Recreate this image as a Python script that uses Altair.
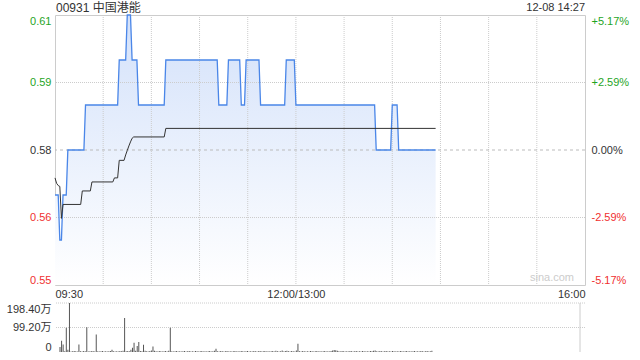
import json
import altair as alt
import pandas as pd

FONT = "Liberation Sans, Noto Sans CJK SC, sans-serif"
GREEN = "#1fa51f"
RED = "#f03030"
BLUE = "#4a86e8"
DARK = "#333333"

# ---- data ----
title_text = "00931 中国港能"
time_text = "12-08 14:27"
watermark_text = "sina.com"

# trading minutes since 09:30 (lunch break removed), price in HKD
price_min = [0, 2, 3, 4, 5, 7, 8, 18, 19, 39, 40, 44, 45, 47, 48, 51, 52, 68, 69,
             101, 102, 107, 108, 115, 116, 118, 119, 127, 128, 143, 144, 149, 150,
             199, 200, 209, 210, 213, 214, 237]
price_val = [0.57, 0.57, 0.56, 0.56, 0.57, 0.57, 0.58, 0.58, 0.59, 0.59, 0.60, 0.60,
             0.61, 0.61, 0.60, 0.60, 0.59, 0.59, 0.60, 0.60, 0.59, 0.59, 0.60, 0.60,
             0.59, 0.59, 0.60, 0.60, 0.59, 0.59, 0.60, 0.60, 0.59, 0.59, 0.58, 0.58,
             0.59, 0.59, 0.58, 0.58]

avg_min = [0, 1, 2, 3, 4, 5, 16, 17, 22, 23, 36, 37, 39, 40, 43, 44, 45, 46, 47,
           48, 49, 68, 69, 237]
avg_val = [0.5738, 0.5726, 0.5721, 0.5719, 0.5648, 0.5679, 0.5679, 0.5709, 0.5709,
           0.5729, 0.5729, 0.5738, 0.5738, 0.5777, 0.5777, 0.5789, 0.5799, 0.5809,
           0.5818, 0.5826, 0.5829, 0.5829, 0.5848, 0.5848]

# volume per minute, in 万 shares (minute 0 .. 236)
volume = [
    20, 46, 30, 3, 98, 9, 198, 2, 3, 4,
    3, 2, 30, 3, 2, 4, 3, 100, 2, 3,
    3, 4, 2, 71, 3, 2, 3, 4, 2, 3,
    2, 3, 4, 9, 3, 2, 3, 2, 4, 3,
    5, 138, 3, 4, 3, 9, 17, 37, 5, 24,
    40, 4, 3, 29, 5, 3, 2, 4, 6, 22,
    5, 3, 2, 4, 3, 2, 3, 4, 2, 5,
    98, 3, 2, 3, 4, 2, 3, 2, 3, 4,
    2, 3, 4, 2, 3, 2, 4, 3, 2, 3,
    4, 2, 3, 2, 3, 4, 2, 3, 5, 13,
    3, 2, 4, 3, 2, 3, 4, 2, 3, 2,
    3, 4, 2, 3, 2, 4, 3, 2, 3, 4,
    2, 3, 2, 4, 3, 2, 3, 4, 2, 3,
    4, 2, 3, 2, 3, 4, 2, 5, 3, 2,
    3, 6, 2, 4, 5, 3, 2, 4, 3, 2,
    6, 33, 3, 2, 4, 3, 2, 3, 2, 4,
    3, 2, 3, 4, 2, 3, 2, 3, 4, 2,
    3, 2, 4, 6, 8, 7, 5, 3, 2, 4,
    3, 2, 3, 2, 4, 3, 2, 3, 4, 2,
    3, 2, 4, 3, 2, 3, 2, 4, 3, 5,
    6, 3, 2, 4, 3, 2, 3, 4, 2, 3,
    2, 4, 3, 2, 3, 2, 4, 3, 2, 3,
    4, 2, 3, 2, 3, 4, 2, 3, 2, 4,
    3, 2, 3, 4, 2, 3, 5,
]

x_domain = [0, 330]
x_tick_values = [0, 150, 330]
x_tick_labels = ["09:30", "12:00/13:00", "16:00"]
grid_minutes = [30, 60, 90, 120, 150, 180, 210, 240, 270, 300]

price_domain = [0.55, 0.61]
price_ticks = [0.55, 0.565, 0.58, 0.595, 0.61]
price_labels = ["0.55", "0.56", "0.58", "0.59", "0.61"]
pct_labels = ["-5.17%", "-2.59%", "0.00%", "+2.59%", "+5.17%"]
prev_close = 0.58

vol_domain = [0, 198.4]
vol_ticks = [0, 99.2, 198.4]
vol_labels = ["0", "99.20万", "198.40万"]

# ---- frames ----
price_df = pd.DataFrame({"minute": price_min, "price": price_val})
avg_df = pd.DataFrame({"minute": avg_min, "price": avg_val})
vol_df = pd.DataFrame({"minute": list(range(len(volume))), "vol": volume})
vgrid_df = pd.DataFrame({"minute": grid_minutes})
hgrid_df = pd.DataFrame({"price": [price_ticks[1], price_ticks[3]]})
center_df = pd.DataFrame({"price": [prev_close]})
ptick_df = pd.DataFrame({"price": price_ticks})
vgrid_vol_df = pd.DataFrame({"vol": vol_ticks[1:]})


def lookup_expr(values, labels):
    return f"{json.dumps(labels, ensure_ascii=False)}[indexof({json.dumps(values)}, datum.value)]"


label_color = {
    "condition": [
        {"test": f"datum.value > {prev_close + 0.0001}", "value": GREEN},
        {"test": f"datum.value < {prev_close - 0.0001}", "value": RED},
    ],
    "value": DARK,
}

xs = alt.Scale(domain=x_domain, nice=False, zero=False)
ys = alt.Scale(domain=price_domain, nice=False, zero=False)

x_axis = alt.Axis(values=x_tick_values, labelExpr=lookup_expr(x_tick_values, x_tick_labels),
                  labelFlush=True, grid=False, ticks=False, domain=False, labelPadding=3,
                  labelColor=DARK, title=None)
left_axis = alt.Axis(values=price_ticks, labelExpr=lookup_expr(price_ticks, price_labels),
                     labelFlush=True, grid=False, ticks=False, domain=False, labelPadding=4,
                     labelColor=label_color, title=None, minExtent=50, maxExtent=50)
right_axis = alt.Axis(orient="right", values=price_ticks,
                      labelExpr=lookup_expr(price_ticks, pct_labels),
                      labelFlush=True, grid=False, ticks=False, domain=False, labelPadding=6,
                      labelColor=label_color, title=None)

gradient = alt.Gradient(
    gradient="linear",
    stops=[alt.GradientStop(color="#d3e1fa", offset=0),
           alt.GradientStop(color="#ffffff", offset=1)],
    x1=0, x2=0, y1=0, y2=1,
)

X = alt.X("minute:Q", scale=xs, axis=x_axis)
Y = alt.Y("price:Q", scale=ys, axis=left_axis)

area = alt.Chart(price_df).mark_area(fill=gradient).encode(
    x=X, y=Y, y2=alt.datum(price_domain[0]),
)
vgrid = alt.Chart(vgrid_df).mark_rule(color="#cccccc", strokeDash=[1, 1], strokeWidth=1).encode(x=X)
hgrid = alt.Chart(hgrid_df).mark_rule(color="#cccccc", strokeDash=[1, 1], strokeWidth=1).encode(y=Y)
center = alt.Chart(center_df).mark_rule(color="#bbbbbb", strokeDash=[3, 3], strokeWidth=1).encode(y=Y)
line = alt.Chart(price_df).mark_line(color=BLUE, strokeWidth=1.3).encode(x=X, y=Y)
avg = alt.Chart(avg_df).mark_line(color=DARK, strokeWidth=1).encode(x=X, y=Y)
title_t = alt.Chart(pd.DataFrame({"t": [title_text]})).mark_text(
    align="left", baseline="middle", font=FONT, fontSize=12, color=DARK
).encode(x=alt.value(1), y=alt.value(-7), text="t:N")
time_t = alt.Chart(pd.DataFrame({"t": [time_text]})).mark_text(
    align="right", baseline="middle", font=FONT, fontSize=11, color=DARK
).encode(x=alt.value(530), y=alt.value(-7), text="t:N")
wm_t = alt.Chart(pd.DataFrame({"t": [watermark_text]})).mark_text(
    align="right", baseline="middle", font=FONT, fontSize=11, color="#cccccc"
).encode(x=alt.value(519), y=alt.value(263), text="t:N")

left_group = alt.layer(area, vgrid, hgrid, center, line, avg, title_t, time_t, wm_t)
right_layer = alt.Chart(ptick_df).mark_rule(opacity=0).encode(
    y=alt.Y("price:Q", scale=ys, axis=right_axis)
)
price_chart = alt.layer(left_group, right_layer).resolve_scale(y="independent").properties(
    width=530, height=270, view=alt.ViewBackground(stroke="#cccccc")
)

vs = alt.Scale(domain=vol_domain, nice=False)
vol_axis = alt.Axis(values=vol_ticks, labelExpr=lookup_expr(vol_ticks, vol_labels),
                    labelFlush=True, grid=False, ticks=False, domain=False, labelPadding=4,
                    labelColor=DARK, title=None, minExtent=50, maxExtent=50)
XV = alt.X("minute:Q", scale=xs, axis=None)
YV = alt.Y("vol:Q", scale=vs, axis=vol_axis)
bars = alt.Chart(vol_df).mark_bar(size=1, color="#555555").encode(x=XV, y=YV)
vol_grid = alt.Chart(vgrid_vol_df).mark_rule(color="#cccccc", strokeDash=[1, 1], strokeWidth=1).encode(y=YV)
right_border = alt.Chart(pd.DataFrame({"minute": [x_domain[1]]})).mark_rule(
    color="#cccccc", strokeWidth=1
).encode(x=XV)
volume_chart = alt.layer(vol_grid, bars, right_border).properties(width=530, height=49)

chart = alt.vconcat(price_chart, volume_chart, spacing=2).properties(
    padding={"left": 4, "top": 1, "right": 4, "bottom": 4}
).configure_view(stroke="transparent").configure_axis(
    labelFont=FONT, labelFontSize=11
)

chart.save("out.html", embed_options={"renderer": "svg", "actions": False})
